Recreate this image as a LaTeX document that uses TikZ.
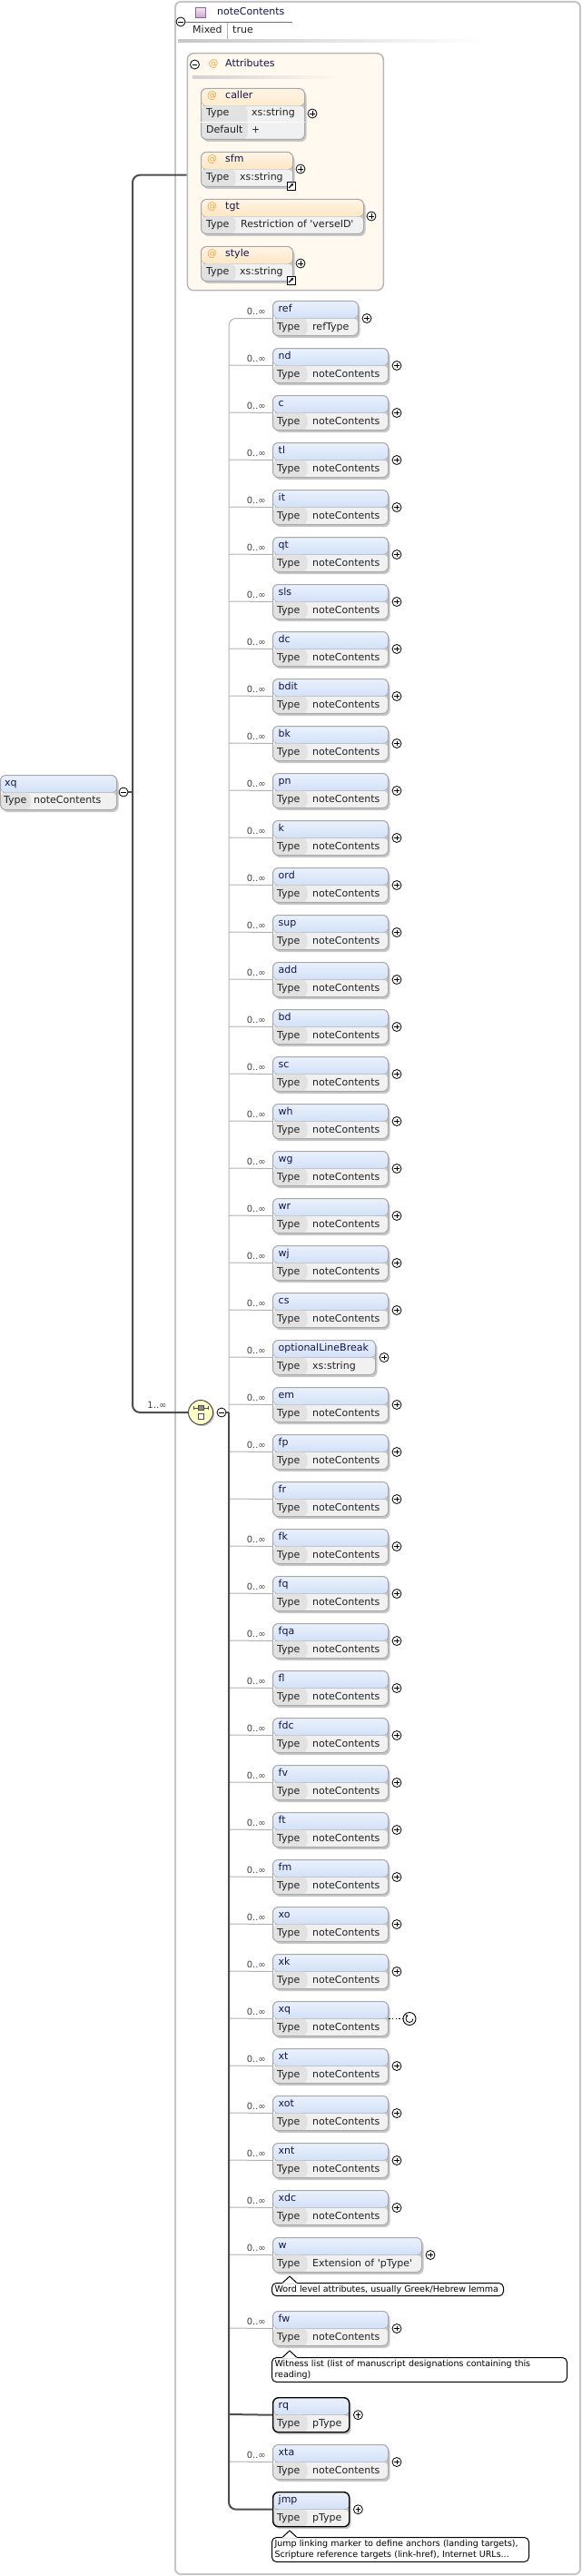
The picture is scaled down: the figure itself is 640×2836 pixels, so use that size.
\documentclass[tikz,border=0pt]{standalone}
\usepackage{fontspec}
\setmainfont{DejaVu Sans}
\usetikzlibrary{shadows,arrows.meta}

\definecolor{hdtop}{HTML}{EAF1FC}
\definecolor{hdbot}{HTML}{BBD0F2}
\definecolor{attop}{HTML}{FFF5E6}
\definecolor{atbot}{HTML}{FBD79E}
\definecolor{typeval}{HTML}{F1F1F1}
\definecolor{typelab}{HTML}{E2E2E2}
\definecolor{boxline}{HTML}{A8A8A8}
\definecolor{namecol}{HTML}{14144A}
\definecolor{txtcol}{HTML}{222222}
\definecolor{linegray}{HTML}{B2B2B2}
\definecolor{linedark}{HTML}{4E4E4E}
\definecolor{grpcol}{HTML}{C6C6C6}
\definecolor{attrfill}{HTML}{FFF9EF}
\definecolor{chfill}{HTML}{FFFFC6}
\definecolor{atcol}{HTML}{F0A840}

\newcommand\boxfont{\fontsize{11}{13}\selectfont}
\newcommand\occfont{\fontsize{10}{12}\selectfont}
\newcommand\notefont{\fontsize{9.5}{12.7}\selectfont}

\tikzset{
  labw/.store in=\labw, labw=38pt,
  xbox/.style 2 args = {rectangle, rounded corners=6pt, draw=boxline, line width=1pt, anchor=north west, inner sep=0, minimum height=38pt,
    drop shadow={shadow xshift=2pt, shadow yshift=-2.5pt, fill=black!22, opacity=1},
    path picture={
      \fill[top color=#1, bottom color=#2] (path picture bounding box.north west) rectangle ([yshift=-19pt]path picture bounding box.north east);
      \fill[typeval] ([yshift=-19pt]path picture bounding box.north west) rectangle (path picture bounding box.south east);
      \fill[typelab] ([yshift=-19pt]path picture bounding box.north west) rectangle ([xshift=\labw]path picture bounding box.south west);
    }},
  elem/.style   = {xbox={hdtop}{hdbot}},
  attr/.style   = {xbox={attop}{atbot}},
  reqbox/.style = {draw=black, line width=1.4pt},
  plusc/.style  = {circle, draw=black, fill=white, line width=0.8pt, minimum size=10pt, inner sep=0,
    path picture={\draw[line width=0.8pt] ([xshift=-2.8pt]path picture bounding box.center) -- ([xshift=2.8pt]path picture bounding box.center)
      ([yshift=-2.8pt]path picture bounding box.center) -- ([yshift=2.8pt]path picture bounding box.center);}},
  minusc/.style = {circle, draw=black, fill=white, line width=0.8pt, minimum size=10pt, inner sep=0,
    path picture={\draw[line width=0.8pt] ([xshift=-2.8pt]path picture bounding box.center) -- ([xshift=2.8pt]path picture bounding box.center);}},
  recur/.style  = {circle, draw=black, fill=white, line width=0.9pt, minimum size=14pt, inner sep=0, xshift=14pt,
    path picture={\draw[line width=0.8pt, -{Stealth[length=2.5pt,width=3pt]}] ([xshift=4pt]path picture bounding box.center) arc[start angle=0, end angle=-250, radius=4pt];}},
  linkicon/.style = {rectangle, draw=black, fill=white, line width=0.8pt, minimum size=9pt, inner sep=0,
    path picture={\draw[line width=1.1pt, -{Stealth[length=3pt,width=3.5pt]}] ([shift={(-2.5pt,-2.5pt)}]path picture bounding box.center) -- ([shift={(2.5pt,2.5pt)}]path picture bounding box.center);}},
  choiceicon/.style = {circle, draw=linedark, fill=chfill, line width=1pt, minimum size=27pt, inner sep=0,
    drop shadow={shadow xshift=1.5pt, shadow yshift=-1.5pt, fill=black!25, opacity=1},
    path picture={
      \draw[line width=0.8pt] ([shift={(-8pt,5pt)}]path picture bounding box.center) -- ([shift={(8pt,5pt)}]path picture bounding box.center)
        ([shift={(-8pt,3pt)}]path picture bounding box.center) -- ([shift={(-8pt,7pt)}]path picture bounding box.center)
        ([shift={(8pt,3pt)}]path picture bounding box.center) -- ([shift={(8pt,7pt)}]path picture bounding box.center);
      \filldraw[fill=black!45, line width=0.8pt] ([shift={(-3pt,2.5pt)}]path picture bounding box.center) rectangle ([shift={(3pt,8pt)}]path picture bounding box.center);
      \filldraw[fill=white, line width=0.8pt] ([shift={(-3pt,-7pt)}]path picture bounding box.center) rectangle ([shift={(3pt,-1pt)}]path picture bounding box.center);
    }},
  ctype/.style  = {rectangle, draw=black!50!violet!60, top color=violet!8, bottom color=violet!35, minimum size=11pt, inner sep=0},
  ename/.style  = {anchor=west, inner sep=0, font=\boxfont, text=namecol, text height=8pt, text depth=2pt},
  tlab/.style   = {ename, text=txtcol},
  tval/.style   = {ename, text=txtcol},
  atsign/.style = {ename, text=atcol},
  occ/.style    = {anchor=east, inner sep=0, font=\occfont, text=black!75, text height=7pt, text depth=1pt},
  conn/.style   = {draw=linegray, line width=1pt},
  reqline/.style = {draw=linedark, line width=2pt},
  attrbox/.style = {rectangle, rounded corners=7pt, draw=black!28, line width=1.5pt, fill=attrfill, anchor=north west, inner sep=0},
  grp/.style    = {rectangle, rounded corners=6pt, draw=grpcol, line width=2pt, anchor=north west, inner sep=0},
  annot/.style  = {draw=black, line width=1pt, fill=white, rounded corners=5pt, anchor=north west, inner xsep=3pt, inner ysep=2.5pt, align=left, font=\notefont, text=black}
}

% one child element: [box options]{name}{top}{type}{width}{occurrence}
\newcommand\elem[6][]{%
  \node[elem, minimum width=#5, #1] (#2) at (300,#3) {};
  \node[ename] (#2-n) at ([xshift=6.5pt,yshift=-9.5pt]#2.north west) {#2};
  \node[tlab] (#2-t) at ([xshift=5pt,yshift=9.5pt]#2.south west) {Type};
  \node[tval] (#2-v) at ([xshift=44pt,yshift=9.5pt]#2.south west) {#4};
  \node[occ] (#2-o) at ([xshift=-7pt,yshift=7pt]#2.west) {#6};
}
% pointer on top of an annotation
\newcommand\callout[1]{%
  \fill[white] ([xshift=12pt,yshift=-0.8pt]#1.north west) -- ([xshift=20pt,yshift=7pt]#1.north west) -- ([xshift=28pt,yshift=-0.8pt]#1.north west) -- cycle;
  \draw[line width=1pt] ([xshift=12.5pt]#1.north west) -- ([xshift=20pt,yshift=7pt]#1.north west) -- ([xshift=27.5pt]#1.north west);
}

\begin{document}
\begin{tikzpicture}[x=1pt, y=-1pt]
  \useasboundingbox (0,0) rectangle (640,2836);

  % complex type
  \node[grp, minimum width=446pt, minimum height=2832pt] (ncgrp) at (192,1) {};
  \node[minusc] (nc-m) at (199,24) {};
  \coordinate (nc-e) at (322,24);
  \draw[black!55] (nc-m) -- (nc-e);
  \node[ctype] (nc-i) at (220.5,13.5) {};
  \node[ename] (nc-n) at (239,14) {noteContents};
  \node[tlab] (nc-k) at (212,34) {Mixed};
  \node[tlab] (nc-v) at (256,34) {true};
  \draw[black!30] (250,25) -- (250,43);
  \fill[left color=black!22, right color=white] (196,44) rectangle (530,47);

  % attributes
  \node[attrbox, minimum width=216pt, minimum height=261pt] (attrs) at (205.5,58) {};
  \node[minusc] (attrs-m) at (214.5,71) {};
  \node[atsign] (attrs-at) at (229.5,71) {@};
  \node[ename] (attrs-n) at (248,71) {Attributes};
  \fill[left color=black!18, right color=attrfill] (212,84) rectangle (372,86.5);

  \node[attr, minimum width=114pt, minimum height=56pt, labw=51pt] (caller) at (221,97) {};
  \draw[white, line width=1pt] ([yshift=19pt]caller.south west) -- ([yshift=19pt]caller.south east);
  \node[atsign] (caller-at) at (228,106) {@};
  \node[ename] (caller-n) at (248,106) {caller};
  \node[tlab] (caller-t) at (227,125) {Type};
  \node[tval] (caller-v) at (277,125) {xs:string};
  \node[tlab] (caller-dt) at (227,143.5) {Default};
  \node[tval] (caller-dv) at (277,143.5) {+};
  \node[plusc] (caller-x) at (344,125) {};

  \node[attr, minimum width=101pt] (sfm) at (221,167) {};
  \node[atsign] (sfm-at) at (228,176) {@};
  \node[ename] (sfm-n) at (248,176) {sfm};
  \node[tlab] (sfm-t) at (227,195.5) {Type};
  \node[tval] (sfm-v) at (264,195.5) {xs:string};
  \node[plusc] (sfm-x) at (331,186) {};
  \node[linkicon] (sfm-l) at (320.5,204.5) {};

  \node[attr, minimum width=179pt] (tgt) at (221,219) {};
  \node[atsign] (tgt-at) at (228,228) {@};
  \node[ename] (tgt-n) at (248,228) {tgt};
  \node[tlab] (tgt-t) at (227,247.5) {Type};
  \node[tval] (tgt-v) at (265,247.5) {Restriction of \textquotesingle verseID\textquotesingle};
  \node[plusc] (tgt-x) at (409,238) {};

  \node[attr, minimum width=101pt] (style) at (221,271) {};
  \node[atsign] (style-at) at (228,280) {@};
  \node[ename] (style-n) at (248,280) {style};
  \node[tlab] (style-t) at (227,299.5) {Type};
  \node[tval] (style-v) at (264,299.5) {xs:string};
  \node[plusc] (style-x) at (331,290) {};
  \node[linkicon] (style-l) at (320.5,308.5) {};

  % root element
  \node[elem, minimum width=128pt, labw=33pt] (root) at (0,853) {};
  \node[ename] (root-n) at (5,862) {xq};
  \node[tlab] (root-t) at (4,881.5) {Type};
  \node[tval] (root-v) at (37,881.5) {noteContents};
  \node[minusc] (root-m) at (136,872) {};
  \coordinate (mv) at (146,872);

  % choice
  \node[choiceicon] (ch) at (221,1555) {};
  \node[minusc] (ch-m) at (244,1555) {};
  \node[occ, anchor=center] (ch-o) at (173,1547) {1..∞};
  \coordinate (cj) at (252,1555);

  % children
  \elem{ref}{331}{refType}{94pt}{0..∞}
  \node[plusc] (ref-x) at ([xshift=9pt]ref.east) {};
  \foreach \n/\y in {nd/383, c/435, tl/487, it/539, qt/591, sls/643, dc/695, bdit/747, bk/799, pn/851,
      k/903, ord/955, sup/1007, add/1059, bd/1111, sc/1163, wh/1215, wg/1267, wr/1319, wj/1371, cs/1423,
      em/1527, fp/1579, fk/1683, fq/1735, fqa/1787, fl/1839, fdc/1891, fv/1943, ft/1995, fm/2047,
      xo/2099, xk/2151, xt/2255, xot/2307, xnt/2359, xdc/2411, fw/2544, xta/2691}{
    \elem{\n}{\y}{noteContents}{127pt}{0..∞}
    \node[plusc] (\n-x) at ([xshift=9pt]\n.east) {};
    \coordinate (\n-j) at (252,\y+19);
    \draw[conn] (\n-j) -- (\n.west);
  }
  \elem{optionalLineBreak}{1475}{xs:string}{113pt}{0..∞}
  \node[plusc] (optionalLineBreak-x) at ([xshift=9pt]optionalLineBreak.east) {};
  \coordinate (optionalLineBreak-j) at (252,1494);
  \draw[conn] (optionalLineBreak-j) -- (optionalLineBreak.west);

  \elem{fr}{1631}{noteContents}{127pt}{}
  \node[plusc] (fr-x) at ([xshift=9pt]fr.east) {};
  \coordinate (fr-j) at (252,1650);
  \draw[conn] (fr-j) -- (fr.west);

  \elem{xq}{2203}{noteContents}{127pt}{0..∞}
  \node[recur] (xq-x) at ([xshift=9pt]xq.east) {};
  \draw[line width=1.6pt, dash pattern=on 1.6pt off 2.2pt] (xq) -- (xq-x);
  \coordinate (xq-j) at (252,2222);
  \draw[conn] (xq-j) -- (xq.west);

  \elem{w}{2463}{Extension of \textquotesingle pType\textquotesingle}{164pt}{0..∞}
  \node[plusc] (w-x) at ([xshift=9pt]w.east) {};
  \coordinate (w-j) at (252,2482);
  \draw[conn] (w-j) -- (w.west);
  \node[annot, text width=249pt] (w-a) at (299,2513) {Word level attributes, usually Greek/Hebrew lemma};
  \callout{w-a}
  \node[annot, text width=319pt] (fw-a) at (299,2595) {Witness list (list of manuscript designations containing this\\reading)};
  \callout{fw-a}

  \elem[reqbox]{rq}{2639}{pType}{84pt}{}
  \node[plusc] (rq-x) at ([xshift=9pt]rq.east) {};
  \coordinate (rq-j) at (252,2658);

  \elem[reqbox]{jmp}{2743}{pType}{84pt}{}
  \node[plusc] (jmp-x) at ([xshift=9pt]jmp.east) {};
  \node[annot, text width=277pt] (jmp-a) at (299,2793) {Jump linking marker to define anchors (landing targets),\\Scripture reference targets (link-href), Internet URLs...};
  \callout{jmp-a}

  % group lines
  \draw[conn, rounded corners=8pt] (ref.west) -| (cj);
  \draw[reqline, rounded corners=8pt] (cj) |- (jmp.west);
  \draw[reqline] (ch-m) -- (cj);
  \draw[reqline] (rq-j) -- (rq.west);
  \draw[reqline, rounded corners=8pt] (ch) -| (mv) |- ([yshift=-3.5pt]attrs.west);
  \draw[reqline] (root-m) -- (mv);
\end{tikzpicture}
\end{document}
